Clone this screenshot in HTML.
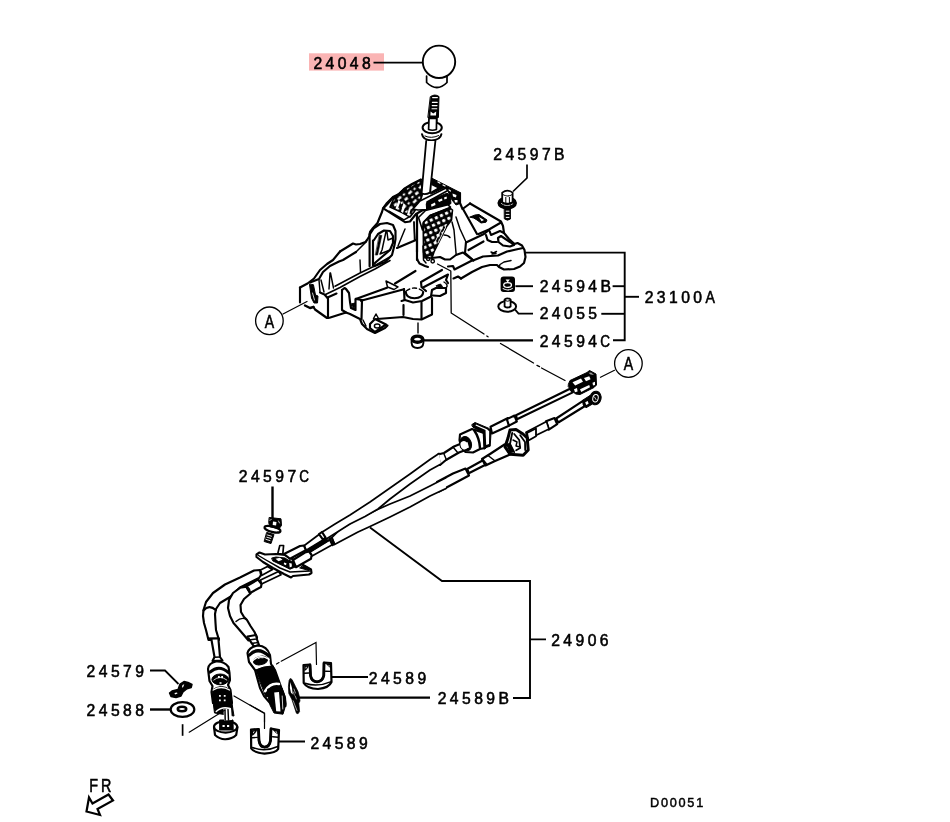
<!DOCTYPE html>
<html lang="en">
<head>
<meta charset="utf-8">
<title>Parts diagram D00051</title>
<style>
html,body{margin:0;padding:0;background:#fff;}
body{width:950px;height:822px;overflow:hidden;position:relative;}
svg{position:absolute;left:0;top:0;display:block;will-change:transform;opacity:0.999;}
.lbl{font-family:"Liberation Sans",sans-serif;font-size:15.7px;letter-spacing:3.43px;fill:#000;stroke:#000;stroke-width:0.55;}
.sm{font-family:"Liberation Sans",sans-serif;font-size:12.7px;letter-spacing:1.75px;fill:#000;stroke:#000;stroke-width:0.45;}
.ld{fill:none;stroke:#000;stroke-width:1.9;stroke-linecap:butt;stroke-linejoin:miter;}
.th{fill:none;stroke:#000;stroke-width:1.1;stroke-linecap:round;stroke-linejoin:round;}
.p{fill:none;stroke:#000;stroke-width:1.7;stroke-linejoin:round;stroke-linecap:round;}
.pf{fill:#fff;stroke:#000;stroke-width:1.7;stroke-linejoin:round;stroke-linecap:round;}
.k{fill:#000;stroke:#000;stroke-width:1;stroke-linejoin:round;}
.w{fill:#fff;stroke:none;}
/* tile groups drawn in 10x zoom coordinates */
.t10{fill:none;stroke:#000;stroke-width:21.5;stroke-linejoin:round;stroke-linecap:round;}
.t10 .f{fill:#fff;}
.t10 .k{fill:#000;stroke-width:10;}
.t10 .w{fill:#fff;stroke:none;}
.t10 .n{stroke-width:14.5;}
.t10 .b{stroke-width:24;}
.t10 .ws{stroke:#fff;stroke-width:12;fill:none;}
</style>
</head>
<body>
<svg width="950" height="822" viewBox="0 0 950 822">
<rect x="0" y="0" width="950" height="822" fill="#fff"/>
<!-- 05_base -->
<g id="base">
<defs>
<pattern id="dots" width="56" height="56" patternUnits="userSpaceOnUse" patternTransform="rotate(-24)">
<rect width="56" height="56" fill="#000"/><rect x="10" y="10" width="32" height="30" rx="9" fill="#fff"/>
</pattern>
<pattern id="speck" width="120" height="100" patternUnits="userSpaceOnUse" patternTransform="rotate(-28)">
<rect width="120" height="100" fill="#000"/><path d="M8,22 l42,-12 l8,22 l-40,14z M68,58 l36,-8 l6,24 l-36,8z M18,72 l26,-5 l3,18 l-26,4z M76,10 l24,-6 l4,18 l-24,6z" fill="#fff"/>
</pattern>
</defs>
<!-- tile TL: origin 340,170 -->
<g class="t10" transform="translate(340,170) scale(.1)">
<path d="M500,370 L540,280 L640,190 L810,95 L825,240 L800,320 L740,420 L700,470 L620,425 Z" style="fill:url(#speck);stroke-width:16"/>
<path class="w" d="M585,300 L555,385 L575,395 L605,315Z M635,330 L610,415 L630,430 L655,350Z M690,380 L670,450 L690,455 L705,395Z"/>
<path d="M810,95 L720,140 L640,190 L590,240 L530,270 L470,330 L430,385 L420,420 L395,480 L375,530 L330,580 L300,620 L295,660 L270,700 L255,720 L200,740 L160,745 L130,735 L90,760 L0,815"/>
<path d="M430,385 L470,345 L530,275"/>
<path d="M445,392 L650,522 L700,515 L760,440 L830,400 L870,400"/>
<path d="M490,412 L640,498 L690,470" class="n"/>
<path d="M300,640 L340,580 L400,540 L470,530 L530,550 L555,610 L555,690 L545,750 L520,850 L450,920 L340,962"/>
<path d="M296,640 L296,962 M330,705 L330,955"/>
<path d="M340,700 L380,640 L440,605 L500,610 L530,660 L530,730 L500,800 L430,860 L360,920 L340,940"/>
<path class="k" d="M395,650 L418,655 L376,850 L356,850 Z" style="stroke-width:6"/>
<path d="M460,615 L420,800 L400,840 L500,800 M470,620 L480,700 L530,680" class="n"/>
<path d="M650,590 L580,760" class="n"/>
<path d="M570,780 L760,700"/>
<path d="M770,440 L770,820"/>
<path d="M740,520 L745,700" class="n"/>
<path d="M160,820 L260,720" class="n"/>
</g>
<!-- tile TM: origin 400,170 -->
<g class="t10" transform="translate(400,170) scale(.1)">
<!-- right dark band of tower top -->
<path class="k" d="M315,80 L600,225 L600,335 L560,350 L520,300 L470,190 L440,180 L310,240 Z"/>
<path class="w" d="M312,150 L372,180 L312,215 Z M525,235 L565,250 L560,275 L530,265Z M545,300 L575,300 L575,325 L550,325Z"/>
<path class="ws" d="M380,120 l20,12 M430,150 l20,10 M490,200 l15,10"/>
<!-- diagonal white bar -->
<path class="f" d="M130,390 L200,310 L460,180 L478,205 L270,320 L270,395 L180,400 Z" style="stroke-width:16"/>
<!-- slot ring -->
<path class="k" d="M265,335 L300,300 L470,232 L500,250 L510,335 L480,352 L320,385 L270,392 Z"/>
<path class="w" d="M310,345 L350,325 L355,350 L315,368Z M380,300 L420,285 L425,305 L390,320Z M440,275 L465,265 L470,285 L445,295Z"/>
<!-- white band on top of front plate -->
<path class="f" d="M185,475 L255,405 L480,348 L505,372 L300,455 L235,520 L225,600 Z" style="stroke-width:16"/>
<!-- dotted front plate -->
<path d="M232,530 L300,455 L500,380 L525,400 L515,500 L470,560 L400,700 L340,820 L320,880 L250,880 L235,820 Z" style="fill:url(#dots);stroke-width:16"/>
<path class="ws" d="M430,560 L350,720 M455,575 L380,730" style="stroke-width:9"/>
<!-- lines on right -->
<path d="M600,230 L600,330 L625,390 L700,335"/>
<path d="M560,470 L600,590 L660,720" class="n"/>
<path d="M630,390 L770,640"/>
<path d="M520,520 L540,600 L562,850" class="n"/>
<path d="M440,650 Q480,650 500,675" class="n"/>
<path class="k" d="M700,470 L750,450 L790,445 L870,500 L860,522 L810,530 L770,500 L740,482 Z"/>
<path class="w" d="M790,470 L840,500 L815,512 Z"/>
<!-- left edge of plate -->
<path d="M170,440 L170,900"/>
<path d="M140,520 L150,700" class="n"/>
</g>
<!-- tile R: origin 460,200 -->
<g class="t10" transform="translate(460,200) scale(.1)">
<path d="M100,35 L410,215 L430,260 L440,330 L490,390 L545,440 L575,430 L620,455 L645,500 L655,570 L640,630 L600,665 L540,690 L440,695 L390,670 L370,650 L300,650 L220,670 L120,720 L10,785"/>
<path d="M185,340 L290,295 L410,225 M290,295 L310,350 L400,310 L440,330"/>
<path d="M60,425 L240,340 L290,300"/>
<path d="M60,420 L50,530 L130,600"/>
<path d="M130,605 L230,565 L380,555 L470,515 L560,495 L630,480"/>
<path d="M85,500 L235,415"/>
<path d="M380,380 L410,360 L500,420 L540,450 L500,465 L430,455 L385,420 Z"/>
<path d="M260,350 L275,400 L320,420 L370,420"/>
<path d="M310,520 l25,10 l30,-15 M320,540 l40,-5" class="n"/>
<path d="M510,605 L440,620 L400,645 L390,670" class="n"/>
</g>
<!-- tile C: origin 380,240 -->
<g class="t10" transform="translate(380,240) scale(.1)">
<path d="M372,190 L378,205 L395,235 L450,260 L480,270"/>
<path d="M430,60 L435,200 L460,230" class="n"/>
<circle cx="482" cy="188" r="17" class="n"/><circle cx="527" cy="212" r="17" class="n"/>
<path d="M520,180 L600,170 L650,195 L700,195 L760,150 L830,125 L900,180 L935,205"/>
<path d="M680,265 L730,260 L745,295 L930,200"/>
<path d="M735,385 L780,365 L810,385"/>
<path d="M410,420 L620,300 M430,475 L680,345 L660,400 L680,430 M410,420 L415,470 L460,510"/>
<path d="M150,435 L355,310"/>
<path d="M60,410 L75,470 L140,495 L180,470 Z" class="n"/>
<path d="M-242,589 L70,478 M-191,608 L240,492"/>
<path d="M262,510 Q345,450 425,510" class="n" style="stroke-dasharray:40 30"/>
<path d="M258,520 Q260,580 345,582 Q430,580 432,520"/>
<path d="M215,610 L250,600 L330,625 L420,610 L510,565 L520,500 L560,480 L660,480 L660,530 L600,560 L530,555"/>
<path d="M240,490 L245,600"/>
<path d="M235,650 L235,750 M415,625 L415,790 M520,580 L520,740"/>
<path d="M-30,790 L230,770 L330,790 L415,795 L520,745"/>
<path class="k" d="M565,455 l40,-15 l20,25 l-40,20 z"/>
<path d="M640,420 Q690,450 660,480" class="n"/>
</g>
<!-- tile L: origin 290,260 -->
<g class="t10" transform="translate(290,260) scale(.1)">
<path d="M100,275 L175,235 L240,185 L300,100 L370,40 L430,0 L500,-85"/>
<path d="M200,225 L290,190 L330,120 L400,60 L490,15 L530,0 L660,-80"/>
<path d="M100,275 L100,425"/>
<path class="k" d="M195,245 L215,380 L240,430 L275,430 L280,360 L255,350 L235,250 Z"/>
<path class="ws" d="M225,330 L245,400" style="stroke-width:8"/>
<path d="M290,200 L300,320 M310,200 L340,320" class="n"/>
<path d="M400,130 L390,290 M405,130 L435,280" class="n"/>
<path d="M300,325 L345,345 L380,385 L380,580"/>
<path d="M375,375 L465,335"/>
<path d="M150,455 L200,480 L235,470" class="b"/>
<path d="M235,470 L250,495 L370,580 L395,578 L560,525 L600,540 L700,590 L720,640 L770,690 L850,730 L950,680 L975,655"/>
<path d="M355,345 L500,275 L700,165 L850,90 L1000,5 M450,262 L700,130 L830,68 L990,-25" style="stroke-width:16"/>
<path d="M520,300 L520,500 L560,525"/>
<path d="M520,300 L545,280 L560,290 L590,330 L600,420 L610,480 L655,500 L655,395"/>
<path class="k" d="M610,440 L650,430 L640,490 Z"/>
<path d="M658,389 L720,400 L715,590"/>
<path d="M700,0 L705,120" class="n"/>
<path d="M730,600 L760,660" class="n"/>
<path d="M800,640 L850,590 L960,645 L850,720 L800,680 Z"/>
<ellipse cx="872" cy="660" rx="28" ry="20" class="n"/>
<path d="M835,585 L860,540 L885,585" class="n"/>
</g>
</g>
<!-- 06_small -->
<g id="smallparts" class="p">
<!-- bushing 24594C -->
<path class="pf" d="M411.6 339V343Q412 348 417.5 348Q423 348 423.4 343V339" style="stroke-width:1.9"/>
<ellipse cx="417.5" cy="339.2" rx="5.2" ry="3.1" style="fill:#fff;stroke-width:3.4"/>
<path class="th" d="M418 323V333" style="stroke-width:1.4"/>
<!-- chain line from base to cable -->
<path class="th" d="M437.5 264L450.8 271L451.2 313L484 334M486.8 336L488 336.8M500.5 343.5L533.5 363M537 365.4L539.5 366.6M541.5 368L565 380.5" style="stroke-width:1.3"/>
<!-- nut 24594B -->
<rect x="501.4" y="277.4" width="12.8" height="13.8" rx="2.2" ry="2.2" style="fill:#000;stroke-width:1.6"/>
<ellipse cx="507.6" cy="285" rx="3.9" ry="2.4" style="fill:none;stroke:#fff;stroke-width:1.3"/>
<path class="w" d="M505.6 279.6H509.8L507.7 282.4Z"/>
<path d="M503.2 288.6Q507.6 291.4 512.2 288.6" style="stroke:#fff;stroke-width:1.1"/>
<!-- washer 24055 -->
<ellipse class="pf" cx="507.2" cy="306.4" rx="8.9" ry="5.4" style="stroke-width:2"/>
<path class="pf" d="M504.6 299.4V306.4Q507.6 308.6 510.6 306.4V299.4Q507.6 297.4 504.6 299.4Z" style="stroke-width:1.8"/>
<path d="M505 300.6Q507.6 302 510.2 300.6" style="stroke-width:1"/>
<!-- bolt 24597B -->
<ellipse cx="507.2" cy="203" rx="9" ry="5.6" style="fill:#000;stroke-width:1.6"/>
<path d="M501.4 203.4Q507 207.6 513.2 203.4" style="stroke:#fff;stroke-width:0.9;stroke-dasharray:2 1.4"/>
<path class="pf" d="M502.2 192.6V202.4Q507.4 205 512.6 202.4V192.6Q507.4 188.6 502.2 192.6Z" style="stroke-width:1.8"/>
<path d="M503 194.6Q507.4 197.4 512 194.6" style="stroke-width:1.1"/>
<rect class="w" x="505.8" y="197.8" width="3.2" height="3.4"/>
<path d="M505.8 197.4V202.6M509.4 197.4V202.6" style="stroke-width:1"/>
<path class="k" d="M504.6 208.4H510.4V219Q507.5 221.4 504.6 219Z"/>
<path d="M506.2 211.2H509M506.2 214.4H509M506.2 217.4H509" style="stroke:#fff;stroke-width:1"/>
</g>
<!-- 10_knob -->
<g id="knob" class="p">
<path class="pf" d="M426.6 76V82.5Q437 92.5 447 82.5V76"/>
<circle class="pf" cx="439" cy="61.8" r="16.2" style="stroke-width:1.9"/>
<!-- threaded stud -->
<path class="k" d="M430.6 96.5Q434.8 93.5 439 96.5L438.4 117.5H428.2Z"/>
<path d="M432.6 97.6H437.4M432.4 102.4H437.2M432.2 105.6H437M432 108.8H436.8" style="stroke:#fff;stroke-width:1.1"/>
<path class="w" d="M430.6 111.6L433.2 113.6L436.2 111.6L436 115.4H430.4Z"/>
<path class="pf" d="M429.2 118L428.6 128H436.6L436.8 118Z"/>
<ellipse class="pf" cx="432.2" cy="127.6" rx="9.6" ry="5.6" style="stroke-width:2"/>
<path class="pf" d="M429 118.5L428.6 129.5Q432.4 131 436.4 129.5L436.6 118.5Z"/>
<path d="M422 134.2Q423 140.2 431.4 140.4Q440.4 140.2 441.4 134.2" style="stroke-width:2"/>
<path d="M425 136Q431 139 438.6 135.6" style="stroke-width:1"/>
<!-- rod -->
<path class="pf" d="M426.2 141L421.6 193.4Q425.4 195 430 192.6L435.4 141" style="stroke-width:1.8"/>
</g>
<!-- 20_cables_top -->
<g id="cables-top">
<!-- tile K1: origin 530,350 -->
<g class="t10" transform="translate(530,350) scale(.1)">
<!-- rod 2 + eye end -->
<path class="f" d="M530,508 L262,685 L283,725 L550,560 Z" style="stroke-width:21"/>
<path class="f" d="M160,712 L245,680 L272,742 L188,796 Z"/>
<path class="f" d="M165,715 L-40,822 L-25,895 L190,790 Z" style="stroke-width:18"/>
<path class="k" d="M530,500 L600,455 L625,540 L560,578 L535,552 Z"/>
<path class="w" d="M552,522 L578,510 L586,538 L562,550Z"/>
<ellipse class="k" cx="655" cy="480" rx="56" ry="68" transform="rotate(12 655 480)"/>
<ellipse cx="655" cy="482" rx="27" ry="38" transform="rotate(12 655 482)" style="stroke:#fff;stroke-width:10;fill:none"/>
<path class="ws" d="M645,470 l15,25" style="stroke-width:8"/>
<!-- rod 1 + box connector -->
<path class="f" d="M400,388 L-140,653 L-130,692 L428,424 Z" style="stroke-width:21"/>
<path class="k" d="M385,340 L400,305 L570,225 L595,205 L660,240 L665,350 L640,375 L500,445 L455,440 L435,420 L385,370 Z"/>
<path class="w" d="M425,322 L510,285 L530,318 L452,356 Z M540,280 L592,262 L606,292 L560,312Z M500,392 L592,350 L600,372 L512,420 Z M440,392 L470,380 L476,414 L450,422Z M625,328 L650,318 L650,350 L630,356Z"/>
<path d="M585,228 L612,226 L640,250 L605,246Z" style="fill:#999;stroke:none"/>
</g>
<!-- tile K2: origin 440,400 -->
<g class="t10" transform="translate(440,400) scale(.1)">
<!-- cable 1: tube + grommet -->
<path class="f" d="M680,180 L505,268 L520,335 L690,258 Z"/>
<path class="f" d="M668,192 L745,155 L768,215 L690,256 Z"/>
<path class="f" d="M285,405 L140,465 L40,530 L-20,545 L0,650 L60,600 L190,525 L295,485 Z"/>
<path d="M130,470 L180,530 M40,540 L65,600" class="n"/>
<path class="f" d="M200,345 L320,290 L440,330 L450,480 L400,490 L330,525 L255,520 L210,470 L195,400 Z"/>
<ellipse class="k" cx="258" cy="438" rx="56" ry="74" transform="rotate(-18 258 438)"/>
<ellipse class="w" cx="240" cy="452" rx="34" ry="42" transform="rotate(-18 240 452)"/>
<path class="f" d="M275,420 L235,436 L250,490 L290,476 Z" style="stroke:none"/>
<path d="M340,300 Q395,380 400,480" class="b"/>
<path class="k" d="M320,245 L350,225 L485,282 L512,302 L502,462 L470,472 L440,492 L432,330 L330,272 Z"/>
<path class="w" d="M355,255 L455,300 L462,450 L490,440 L492,312 L470,292 L360,245Z"/>
<!-- cable 2: grommet (hex) -->
<path class="f" d="M960,285 L870,330 L885,405 L960,362 Z" style="stroke-width:18"/>
<path class="f" d="M430,603 L272,690 L288,732 L455,648 Z"/>
<path class="f" d="M645,445 L500,540 L420,590 L455,655 L545,612 L700,545 Z"/>
<path class="f" d="M255,685 L130,735 L-30,820 L-10,915 L150,830 L290,755 Z"/>
<path d="M480,555 L545,605 M425,590 L470,645" class="n"/>
<path class="f" d="M700,300 L760,295 L830,340 L872,380 L882,500 L832,552 L700,542 L650,470 L680,380 Z" style="stroke-width:30"/>
<path d="M722,330 L700,440 L742,522 M742,340 L792,400 L802,480 L762,502 M802,352 L850,420 L852,500" style="stroke-width:18"/>
<path d="M730,400 L770,420 L760,460 L800,470" class="n"/>
<path class="k" d="M660,440 L700,430 L735,520 L700,535 Z" style="stroke-width:6"/>
</g>
</g>
<!-- 22_cables_mid -->
<g id="cables-mid">
<!-- long runs (source coords) -->
<g class="p" style="stroke-width:1.9">
<path class="pf" d="M445.5 478L430 486L410 496L390 504L378 509.3L355 520.5L340 529.5L332 537.5L334.5 544.5L358 532L370 526.5L390 517L410 507L430 496L446 488.5"/>
<path class="pf" d="M439 453.5L430 459.5L410 474L390 488L370 502L350 515L335 524L321.5 532.5L325.5 539.5L350 524L365 516.5L378 509L390 499L410 484L430 470L441 464"/>
</g>
<!-- tile KB: origin 240,520 (bracket) -->
<g class="t10" transform="translate(240,520) scale(.1)">
<!-- tubes leaving to lower-left -->
<path class="f" d="M275,465 L200,502 L215,555 L325,495 Z" style="stroke-width:17"/>
<path class="f" d="M385,515 L205,600 L215,640 L410,548 Z" style="stroke-width:17"/>
<!-- plate -->
<path class="f" d="M165,345 L195,325 L250,345 L360,340 L450,350 L640,455 L710,495 L715,530 L690,545 L530,560 L510,575 L440,540 L330,480 L230,420 L165,370 Z"/>
<path d="M185,355 L260,400 L400,480 L500,520 L700,510" class="n"/>
<path class="k" d="M320,380 L360,370 L450,380 L480,400 L540,420 L552,470 L500,492 L440,462 L330,410 Z"/>
<path class="w" d="M355,388 L400,378 L425,398 L385,412Z M440,425 l25,8 l-5,20 l-22,-10z M492,430 l25,6 l2,30 l-22,8z"/>
<path class="k" d="M640,452 L705,490 L690,505 L600,480 Z"/>
<!-- pin -->
<path class="f" d="M378,335 L398,255 L436,255 L428,342 Z" style="stroke-width:17"/>
<!-- narrow tubes + sleeves going upper-right -->
<path class="f" d="M640,258 L800,138 L850,188 L662,302 Z" style="stroke-width:17"/>
<path class="f" d="M700,320 L900,198 L932,242 L716,362 Z" style="stroke-width:17"/>
<path class="k" d="M650,310 L850,190 L900,200 L700,322 Z" style="stroke-width:6"/>
<path class="f" d="M440,340 L600,260 L640,255 L658,302 L500,388 Z"/>
<path class="f" d="M530,400 L650,325 L690,315 L716,350 L710,388 L560,472 Z"/>
<path class="f" d="M790,142 L820,120 L856,176 L830,196 Z"/>
<path class="f" d="M895,190 L915,178 L942,238 L925,250 Z"/>
<!-- bolt 24597C -->
<path class="k" d="M270,125 L340,145 L310,236 L245,216 Z"/>
<path class="ws" d="M275,150 l40,12 M268,172 l40,12 M260,194 l40,12" style="stroke-width:9"/>
<ellipse class="f" cx="325" cy="92" rx="82" ry="27" transform="rotate(14 325 92)" style="stroke-width:22"/>
<path class="k" d="M295,-25 L410,-12 L415,55 L390,88 L300,68 L288,30 Z"/>
<path class="w" d="M330,15 l35,5 l-4,35 l-34,-6z"/>
<path class="ws" d="M300,5 l15,-15 M385,10 l10,20" style="stroke-width:8"/>
</g>
<path class="ld" d="M272.5 486.5V519" style="stroke-width:2.4"/>
<path class="ld" d="M370 527.5L442 581H530V698H513M530 639.4H546" style="stroke-width:1.9;stroke-linejoin:miter"/>
</g>
<!-- 24_cables_low -->
<g id="cables-low">
<!-- tile K5: origin 190,540 (bend) -->
<g class="t10" transform="translate(190,540) scale(.1)">
<path class="f" d="M700,300 L640,305 L500,375 L350,445 L230,530 L160,620 L135,700 L130,760 L140,830 L160,900 L185,1000 L290,1000 L260,900 L255,830 L250,740 L260,690 L300,630 L400,570 L500,475 L690,380 L710,350 Z"/>
<path d="M135,705 Q190,640 258,700"/>
<path d="M700,300 Q725,330 712,352" class="n"/>
<path class="f" d="M565,468 L500,478 L430,530 L390,600 L380,680 L400,760 L435,830 L470,870 L530,940 L585,1005 L670,975 L645,920 L605,860 L570,800 L540,770 L510,720 L505,650 L540,590 L605,535 Z"/>
<path class="f" d="M560,465 L680,395 L715,440 L710,470 L600,530 Z"/>
<path d="M560,465 Q605,480 600,530" class="n"/>
<path d="M460,815 Q510,770 560,790" class="n"/>
</g>
<!-- tile K6: origin 190,620 (grommets) -->
<g class="t10" transform="translate(190,620) scale(.1)">
<!-- cable A lower tube -->
<path class="f" d="M190,185 L215,200 L245,370 L225,410 L325,405 L300,370 L285,200 L290,185 Z"/>
<path d="M190,185 L285,182" class="n"/>
<path d="M245,372 L300,370" class="n"/>
<!-- grommet A -->
<path class="f" d="M180,490 Q185,430 260,415 Q340,410 385,470 L395,530 L400,600 L380,650 L405,700 L420,830 L230,830 L215,720 L225,660 L195,610 Z"/>
<path d="M200,522 Q290,440 385,527" class="b" style="stroke-width:30"/>
<ellipse class="k" cx="303" cy="594" rx="84" ry="54"/>
<path class="ws" d="M238,600 Q300,548 368,600" style="stroke-width:8"/>
<path class="w" d="M280,560 h18 v20 h-18z M312,560 h18 v20 h-18z M295,622 h20 v16 h-20z"/>
<path class="k" d="M222,700 Q310,630 402,698 L430,900 L440,960 L245,930 L232,830 Z"/>
<path class="ws" d="M232,700 Q310,650 395,700" style="stroke-width:14"/>
<path class="w" d="M290,750 h18 v18 h-18z M338,750 h18 v18 h-18z M290,795 h18 v18 h-18z M338,795 h18 v18 h-18z"/>
<!-- cable B lower tube + rings -->
<path class="f" d="M575,165 L660,150 L672,200 L690,250 L640,265 L610,222 Z"/>
<path d="M590,200 L668,190 M615,235 L680,225" class="n"/>
<!-- grommet B -->
<path class="f" d="M575,330 Q590,270 680,255 Q770,260 800,350 L810,440 L850,500 L900,640 L950,780 L955,860 L800,830 L740,760 L700,680 L650,500 L590,420 Z"/>
<path d="M595,350 Q680,260 790,360" class="b" style="stroke-width:32"/>
<ellipse class="k" cx="705" cy="405" rx="72" ry="42" transform="rotate(-12 705 405)"/>
<path class="ws" d="M625,410 Q700,330 790,395" style="stroke-width:14"/>
<path class="ws" d="M680,385 q25,-15 50,-8" style="stroke-width:9"/>
<path class="k" d="M655,500 Q730,462 832,458 L900,640 L930,720 L760,770 L740,720 Z"/>
<path class="ws" d="M752,712 Q800,625 890,640" style="stroke-width:26"/>
<path class="k" d="M775,720 Q810,660 880,668 L930,780 L940,860 L830,860 Z"/>
</g>
<!-- tile K7: origin 190,690 (cable A end) -->
<g class="t10" transform="translate(190,690) scale(.1)">
<path class="f" d="M240,370 L250,450 Q300,495 355,492 Q420,490 462,450 L475,370 Z"/>
<ellipse class="f" cx="356" cy="368" rx="116" ry="58"/>
<path class="k" d="M300,300 L430,300 L432,400 L300,400 Z"/>
<path class="w" d="M325,350 h22 v20 h-22z M370,350 h22 v20 h-22z"/>
<path class="f" d="M335,190 L410,180 L420,300 L340,305 Z" style="stroke:none"/>
<path d="M350,200 L352,300 M380,195 L385,300" class="n"/>
<path class="ws" d="M262,215 Q320,160 400,185" style="stroke-width:14"/>
</g>
<!-- tile K8: origin 250,640 (cable B end pin) -->
<g class="t10" transform="translate(250,640) scale(.1)">
<path class="k" d="M180,490 L320,480 L350,560 L360,640 L330,742 L240,730 L200,650 L180,560 Z"/>
<path class="w" d="M242,525 L290,520 L305,715 L262,712 Z"/>
<path class="ws" d="M322,560 L328,690" style="stroke-width:8"/>
</g>
</g>
<!-- 30_lowparts -->
<g id="lowparts">
<!-- tile K9: origin 140,650 (clip + washer) -->
<g class="t10" transform="translate(140,650) scale(.1)">
<path d="M100,205 L250,205 L385,340" style="stroke-width:18;stroke-linejoin:miter;stroke-linecap:butt"/>
<path class="k" d="M295,430 L320,410 L380,395 L400,340 L440,315 L480,325 L520,345 L512,375 L470,388 L430,420 L410,460 L360,475 L310,465 Z" style="stroke-width:14"/>
<path class="w" d="M345,430 l25,-6 l5,12 l-25,8z M425,350 l18,-8 l-12,30 l-12,4z"/>
<path d="M100,595 L300,595" style="stroke-width:24;stroke-linecap:butt"/>
<ellipse class="f" cx="425" cy="595" rx="118" ry="74" style="stroke-width:22"/>
<ellipse class="f" cx="420" cy="590" rx="42" ry="22" style="stroke-width:26"/>
<path d="M426,742 L426,858" style="stroke-width:17;stroke-linecap:butt"/>
<path d="M492,822 L850,600" class="n" style="stroke-width:12"/>
</g>
<!-- tile K7: origin 190,690 (lower U clip) -->
<g class="t10" transform="translate(190,690) scale(.1)">
<path d="M440,60 L745,235 L745,385" class="n" style="stroke-width:12;stroke-linejoin:miter"/>
<path class="f" d="M610,395 L685,390 L690,505 Q700,570 745,572 Q795,570 805,505 L810,385 L890,400 L882,590 Q860,628 745,636 Q640,628 612,585 Z" style="stroke-width:22"/>
<path d="M685,395 L690,505 Q700,570 745,572 Q795,570 805,505 L810,390" style="stroke-width:28"/>
<path d="M620,478 L672,474 M826,468 L882,472 M625,575 Q745,625 878,565" class="n"/>
<path class="k" d="M618,402 L672,398 L660,420 L640,445 L620,455 Z M822,394 L884,404 L882,440 L860,430 L838,408Z" style="stroke-width:4"/>
<path class="w" d="M630,420 l18,-10 l-14,26z M850,412 l20,6 l2,14z"/>
<path d="M890,515 L1150,515" style="stroke-width:20;stroke-linecap:butt"/>
</g>
<!-- tile K8: origin 250,640 (upper U clip + plate) -->
<g class="t10" transform="translate(250,640) scale(.1)">
<path d="M265,240 L290,226 M312,212 L660,25 L665,245" class="n" style="stroke-width:12;stroke-linejoin:miter"/>
<path class="f" d="M535,250 L600,245 L605,355 Q615,415 670,418 Q725,415 738,355 L740,225 L810,230 L815,420 Q790,480 680,490 Q570,485 537,430 Z" style="stroke-width:22"/>
<path d="M600,250 L605,355 Q615,415 670,418 Q725,415 738,355 L740,232" style="stroke-width:28"/>
<path d="M545,332 L588,330 M756,312 L808,314 M550,432 Q670,475 805,418" class="n"/>
<path class="k" d="M543,257 L590,252 L580,275 L562,298 L545,308 Z M752,233 L805,237 L805,278 L785,262 L768,244Z" style="stroke-width:4"/>
<path class="w" d="M555,275 l16,-10 l-12,24z M778,248 l18,6 l2,14z"/>
<path d="M815,370 L1180,370" style="stroke-width:20;stroke-linecap:butt"/>
<path class="k" d="M406,386 L420,395 L455,465 L480,515 L494,566 L500,610 L488,632 L496,715 L480,738 L464,732 L418,592 L388,535 L384,465 L391,405 Z" style="stroke-width:7"/>
<path class="w" d="M403,420 L420,480 L428,545 L410,528 L399,480 Z"/>
<path class="ws" d="M432,608 L470,705 M440,490 l14,40 M452,560 l12,30 M435,520 l8,30" style="stroke-width:6"/>
<path d="M490,577 L1800,577" style="stroke-width:22;stroke-linecap:butt"/>
<path d="M0,650 L145,730 L145,820" class="n" style="stroke-width:12;stroke-linejoin:miter"/>
</g>
<!-- FR arrow: origin 70,740 -->
<g class="t10" transform="translate(70,740) scale(.1)">
<path class="f" d="M385,545 L430,605 L275,690 L300,750 L165,715 L190,575 L225,635 Z" style="stroke-width:22;stroke-linejoin:miter"/>
</g>
</g>
<!-- 90_labels -->
<g id="labels">
<rect x="309" y="53.3" width="75" height="17.3" fill="#fab4b4"/>
<text class="lbl" x="313.4" y="69.4">24048</text>
<text class="lbl" x="493.3" y="160">24597B</text>
<text class="lbl" x="539.7" y="292.4">24594B</text>
<text class="lbl" x="539.7" y="319.4">24055</text>
<text class="lbl" x="539.7" y="346.7">24594<tspan x="600.20" textLength="9.75" lengthAdjust="spacingAndGlyphs" style="letter-spacing:0">C</tspan></text>
<text class="lbl" x="644.7" y="303.3">23100<tspan x="705.50" textLength="9.42" lengthAdjust="spacingAndGlyphs" style="letter-spacing:0">A</tspan></text>
<text class="lbl" x="238.8" y="481.6">24597<tspan x="299.30" textLength="9.75" lengthAdjust="spacingAndGlyphs" style="letter-spacing:0">C</tspan></text>
<text class="lbl" x="551.2" y="646">24906</text>
<text class="lbl" x="437.7" y="704.4">24589B</text>
<text class="lbl" x="368.8" y="683.6">24589</text>
<text class="lbl" x="310.4" y="748.9">24589</text>
<text class="lbl" x="86.6" y="676.9">24579</text>
<text class="lbl" x="86.6" y="716">24588</text>
<text class="lbl" transform="translate(89.3 791.6) scale(.8 1)" style="font-size:18px;letter-spacing:3.6px">FR</text>
<text class="sm" x="650" y="807">D00051</text>
<text class="lbl" transform="translate(264.8 327.7) scale(.8 1)" style="font-size:17.6px;letter-spacing:0">A</text>
<text class="lbl" transform="translate(623.8 369.6) scale(.8 1)" style="font-size:17.6px;letter-spacing:0">A</text>
</g>
<g id="leaders" class="ld">
<path d="M373.5 62.6H422"/>
<path d="M525.5 252.6H624.7V340.3H613"/>
<path d="M612.6 286.2H624.8"/>
<path d="M601.3 313.8H624.8"/>
<path d="M624.8 296.8H639"/>
<path d="M515.4 286.2H533"/>
<path d="M515 309.5L518.5 313.6H533"/>
<path d="M423.5 340.3H533" style="stroke-width:2.3"/>
<path d="M527 164.5V178L513 191.5" style="stroke-width:1.7"/>
</g>
<g id="circ" class="th" style="stroke-width:1.3">
<circle cx="269.4" cy="320.8" r="13.8"/>
<circle cx="628.4" cy="363.5" r="13.8"/>
<path d="M283 314L307 301.5M600.5 377.3L614.5 370.3" style="stroke-width:1.2"/>
</g>
</svg>
</body>
</html>
